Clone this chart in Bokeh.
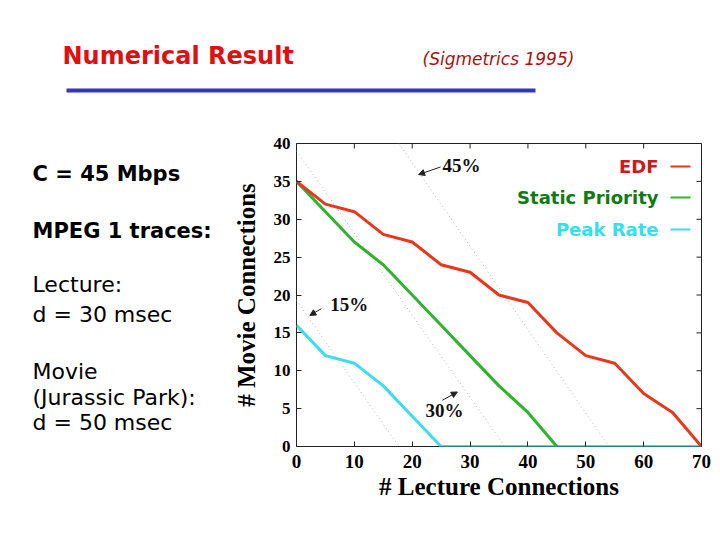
# Admissible region plot: movie vs lecture connections on a 45 Mbps link.
from bokeh.plotting import figure
from bokeh.layouts import column, row
from bokeh.models import Range1d, FixedTicker, Label, Arrow, NormalHead
from bokeh.embed import file_html
from bokeh.resources import INLINE

# Data
lecture = [0, 5, 10, 15, 20, 25, 30, 35, 40, 45, 50, 55, 60, 65, 70]
edf = [35, 32, 31, 28, 27, 24, 23, 20, 19, 15, 12, 11, 7, 4.5, 0]
static_lecture = [0, 5, 10, 15, 20, 25, 30, 35, 40, 45]
static_priority = [35, 31, 27, 24, 20, 16, 12, 8, 4.5, 0]
peak_rate = [16, 12, 11, 8, 4, 0, 0, 0, 0, 0, 0, 0, 0, 0, 0]

# dotted average-utilisation lines
util_names = ["15%", "30%", "45%"]
util_lecture = [[0, 17.7], [0, 36], [17.7, 54]]
util_movie = [[19.3, 0], [39, 0], [40, 0]]

x_ticks = [0, 10, 20, 30, 40, 50, 60, 70]
y_ticks = [0, 5, 10, 15, 20, 25, 30, 35, 40]

bold_notes = ["C = 45 Mbps", "MPEG 1 traces:"]
plain_notes = ["Lecture:", "d = 30 msec", "Movie", "(Jurassic Park):", "d = 50 msec"]

# layout in page pixels
W, H = 712, 532
HEAD_H = 110          # header strip on top
NOTES_W = 225         # notes column on the left
FRAME_L, FRAME_R, FRAME_T, FRAME_B = 296, 701, 143, 446
TICK = 5


def blank(width, height, y_top, y_bottom):
    # a figure without axes whose data units are page pixels
    f = figure(width=width, height=height, x_range=Range1d(0, width),
               y_range=Range1d(y_bottom, y_top),
               x_axis_type=None, y_axis_type=None, output_backend="svg",
               toolbar_location=None, min_border=0)
    f.outline_line_color = None
    f.grid.visible = False
    f.background_fill_color = "white"
    f.border_fill_color = "white"
    return f


# ---- header ----
head = blank(W, HEAD_H, 0, HEAD_H)
head.text(x=[62], y=[55], text=["Numerical Result"], text_baseline="middle",
          text_font={"value": "DejaVu Sans"}, text_font_style="bold",
          text_font_size="24px", text_color="#dd1111")
head.text(x=[422], y=[58], text=["(Sigmetrics 1995)"], text_baseline="middle",
          text_font={"value": "DejaVu Sans"}, text_font_style="italic",
          text_font_size="17px", text_color="#aa1111")
head.quad(left=[66], right=[535], top=[88], bottom=[92], fill_color="#3535b8", line_color=None)

# ---- notes on the left (the row lines this frame up with the chart frame) ----
notes = blank(NOTES_W, H - HEAD_H, FRAME_T, FRAME_B)
bold_rows = [173, 230]
plain_rows = [284, 314, 371, 397, 422]
notes.text(x=[32] * len(bold_notes), y=bold_rows, text=bold_notes,
           text_baseline="middle", text_font={"value": "DejaVu Sans"},
           text_font_style="bold", text_font_size="21px", text_color="black")
notes.text(x=[32] * len(plain_notes), y=plain_rows, text=plain_notes,
           text_baseline="middle", text_font={"value": "DejaVu Sans"},
           text_font_size="22px", text_color="black")

# ---- chart ----
CW, CH = W - NOTES_W, H - HEAD_H
p = figure(width=CW, height=CH, x_range=Range1d(0, 70), y_range=Range1d(0, 40),
           output_backend="svg", toolbar_location=None,
           min_border_left=FRAME_L - NOTES_W, min_border_right=W - FRAME_R,
           min_border_top=FRAME_T - HEAD_H, min_border_bottom=H - FRAME_B)
p.background_fill_color = "white"
p.border_fill_color = "white"
p.outline_line_color = "#222222"
p.grid.visible = False


def dx(px):
    return (px - FRAME_L) / (FRAME_R - FRAME_L) * 70


def dy(py):
    return (FRAME_B - py) / (FRAME_B - FRAME_T) * 40


for ax in (p.xaxis[0], p.yaxis[0]):
    ax.major_label_text_font = "Liberation Serif"
    ax.major_label_text_font_style = "bold"
    ax.major_label_text_color = "black"
    ax.axis_label_text_font = "Liberation Serif"
    ax.axis_label_text_font_style = "bold"
    ax.axis_label_text_font_size = "25px"
    ax.axis_label_text_color = "black"
    ax.major_tick_in = TICK
    ax.major_tick_out = 0
    ax.minor_tick_line_color = None
    ax.axis_line_color = None
    ax.major_tick_line_color = "#222222"
p.xaxis[0].ticker = FixedTicker(ticks=x_ticks)
p.yaxis[0].ticker = FixedTicker(ticks=y_ticks)
p.xaxis[0].major_label_text_font_size = "19px"
p.yaxis[0].major_label_text_font_size = "17px"
p.xaxis[0].major_label_standoff = 8
p.yaxis[0].major_label_standoff = 6
p.xaxis[0].axis_label = "# Lecture Connections"
p.yaxis[0].axis_label = "# Movie Connections"
p.xaxis[0].axis_label_standoff = 2
p.yaxis[0].axis_label_standoff = 11

# inward tick marks on the top and right edges of the frame
tick_dy = TICK / (FRAME_B - FRAME_T) * 40
tick_dx = TICK / (FRAME_R - FRAME_L) * 70
p.segment(x0=x_ticks, y0=[40] * len(x_ticks), x1=x_ticks, y1=[40 - tick_dy] * len(x_ticks),
          line_color="#222222", line_width=1)
p.segment(x0=[70] * len(y_ticks), y0=y_ticks, x1=[70 - tick_dx] * len(y_ticks), y1=y_ticks,
          line_color="#222222", line_width=1)

# utilisation lines
for xs, ys in zip(util_lecture, util_movie):
    p.line(xs, ys, line_color="#b4b4b4", line_width=1, line_dash="1 3")

p.line(lecture, peak_rate, line_color="#3ddcee", line_width=3)
p.line(static_lecture, static_priority, line_color="#2db32d", line_width=3)
p.line(lecture, edf, line_color="#e6391c", line_width=3)

# utilisation labels with arrows
label_pos = [(9.1, 18.8), (25.6, 4.7), (28.5, 37.1)]
arrow_tail = [(4.3, 18.2), (25.2, 6.1), (24.9, 36.9)]
arrow_head = [(2.3, 17.3), (27.8, 7.2), (21.1, 35.9)]
for name, (lx, ly), (tx, ty), (hx, hy) in zip(util_names, label_pos, arrow_tail, arrow_head):
    p.add_layout(Label(x=lx, y=ly, text=name, text_align="center", text_baseline="middle",
                       text_font="Liberation Serif", text_font_style="bold",
                       text_font_size="19px", text_color="#111111"))
    p.add_layout(Arrow(x_start=tx, y_start=ty, x_end=hx, y_end=hy, line_width=1,
                       line_color="#222222",
                       end=NormalHead(size=6, fill_color="#222222", line_color="#222222")))

# hand-made legend, text on the left of the line sample
legend_names = ["EDF", "Static Priority", "Peak Rate"]
legend_text_colors = ["#cc1a1a", "#137a13", "#33e0ee"]
legend_line_colors = ["#e6391c", "#2db32d", "#3ddcee"]
legend_rows = [166, 197, 229]
for name, tc, lc, r in zip(legend_names, legend_text_colors, legend_line_colors, legend_rows):
    p.add_layout(Label(x=dx(658), y=dy(r), text=name, text_align="right",
                       text_baseline="middle", text_font="DejaVu Sans",
                       text_font_style="bold", text_font_size="18px", text_color=tc))
    p.segment(x0=[dx(670)], y0=[dy(r)], x1=[dx(690)], y1=[dy(r)],
              line_color=lc, line_width=2)

page = column(head, row(notes, p, spacing=0), spacing=0)
open("out.html", "w").write(file_html(page, INLINE))
